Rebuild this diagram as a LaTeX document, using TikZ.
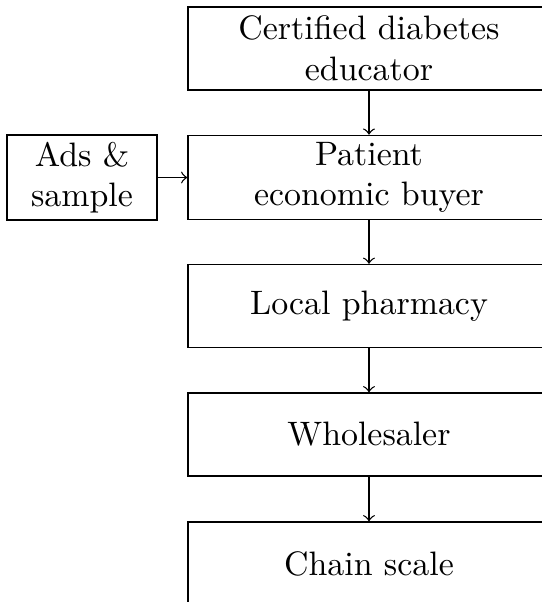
\documentclass[tikz,border=0pt]{standalone}
\usetikzlibrary{arrows}
\begin{document}
\begin{tikzpicture}[x=0.295pt, y=0.295pt,
  stagebox/.style={draw, align=center, inner xsep=3pt, inner ysep=2pt,
    minimum width=106.8pt, minimum height=24.5pt},
  sidebox/.style={draw, align=center, inner xsep=3pt, inner ysep=2pt,
    minimum width=44.3pt, minimum height=24.5pt},
  flow/.style={->}]
  \useasboundingbox (0,0) rectangle (542,-602);
  % supply chain, top to bottom
  \node[stagebox] (cde) at (369,-48.5) {Certified diabetes\\educator};
  \node[stagebox] (patient) at (369,-177.5) {Patient\\economic buyer};
  \node[stagebox] (pharmacy) at (369,-306) {Local pharmacy};
  \node[stagebox] (wholesaler) at (369,-434.5) {Wholesaler};
  \node[stagebox] (chain) at (369,-563.5) {Chain scale};
  % marketing input on the left
  \node[sidebox] (ads) at (82,-177.5) {Ads \&\\sample};
  \draw[flow] (cde) -- (patient);
  \draw[flow] (ads) -- (patient);
  \draw[flow] (patient) -- (pharmacy);
  \draw[flow] (pharmacy) -- (wholesaler);
  \draw[flow] (wholesaler) -- (chain);
\end{tikzpicture}
\end{document}
